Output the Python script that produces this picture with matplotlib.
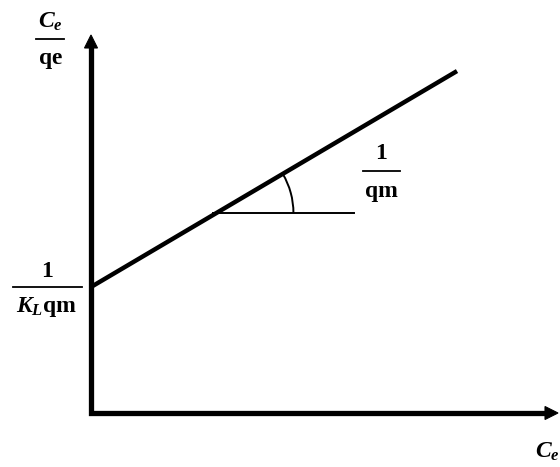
import numpy as np
import matplotlib
matplotlib.use("Agg")
import matplotlib.pyplot as plt
from matplotlib.patches import Arc, Polygon

plt.rcParams["mathtext.fontset"] = "custom"
plt.rcParams["mathtext.rm"] = "Liberation Serif:bold"
plt.rcParams["mathtext.it"] = "Liberation Serif:bold:italic"
plt.rcParams["mathtext.bf"] = "Liberation Serif:bold"

# Langmuir linear form: Ce/qe = 1/(KL*qm) + Ce/qm
intercept = 126.0          # 1/(KL qm)
slope = 0.59               # 1/qm
ce_end = 366.0             # last Ce value of the line
y_axis_len = 378.0
x_axis_len = 467.0
ref_level = 200.0          # height of the slope-reference segment
ref_extent = [-3.0, 138.0] # segment ends relative to intersection
arc_radius = 77.0
head_len, head_half = 13.0, 6.5

fig = plt.figure(figsize=(5.6, 4.67), dpi=100)
ax = fig.add_axes([0, 0, 1, 1])
ax.set_xlim(-91, 469)
ax.set_ylim(-54, 413)
ax.axis("off")

# L-shaped axes with filled arrowheads
ax.plot([0, 0, x_axis_len - head_len + 1], [y_axis_len - head_len + 1, 0, 0],
        color="black", lw=3.8, solid_joinstyle="miter", solid_capstyle="butt")
ax.add_patch(Polygon([[0, y_axis_len], [-head_half, y_axis_len - head_len],
                      [head_half, y_axis_len - head_len]], closed=True,
                     facecolor="black", edgecolor="black", lw=0.8))
ax.add_patch(Polygon([[x_axis_len, 0], [x_axis_len - head_len, head_half],
                      [x_axis_len - head_len, -head_half]], closed=True,
                     facecolor="black", edgecolor="black", lw=0.8))

# fitted line
ce = np.array([0.0, ce_end])
ax.plot(ce, intercept + slope * ce, color="black", lw=3.2, solid_capstyle="butt")

# slope reference and angle arc
x_int = (ref_level - intercept) / slope
ax.plot([x_int + ref_extent[0], x_int + ref_extent[1]], [ref_level, ref_level],
        color="black", lw=1.4)
theta = np.degrees(np.arctan(slope))
ax.add_patch(Arc((x_int, ref_level), 2 * arc_radius, 2 * arc_radius,
                 theta1=0, theta2=theta, color="black", lw=1.4))

fs = 17

def fraction(xc, y_num, y_bar, y_den, num, den, half):
    ax.text(xc, y_num, num, ha="center", va="center", fontsize=fs)
    ax.text(xc, y_den, den, ha="center", va="center", fontsize=fs)
    ax.plot([xc - half, xc + half], [y_bar, y_bar], color="black", lw=1.3)

fraction(-41, 392, 374, 354, r"$C_e$", r"$\mathrm{qe}$", 14)
fraction(-44, 143, 126, 106, r"$\mathrm{1}$", r"$K_L\mathrm{qm}$", 34.5)
fraction(290, 261, 242, 221, r"$\mathrm{1}$", r"$\mathrm{qm}$", 18.5)

ax.text(444, -38, r"$C_e$", ha="left", va="center", fontsize=fs)

fig.savefig("out.png", dpi=100)
